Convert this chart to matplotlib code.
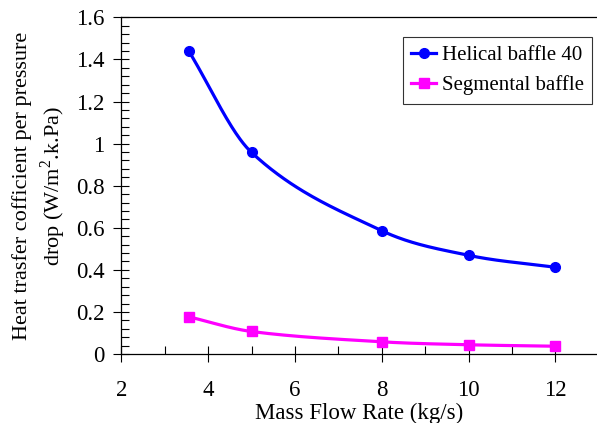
import numpy as np
import matplotlib
matplotlib.use("Agg")
import matplotlib.pyplot as plt
from matplotlib.ticker import MultipleLocator

mass_flow = [3.55, 5, 8, 10, 12]
helical = [1.441, 0.958, 0.586, 0.469, 0.412]
segmental = [0.177, 0.107, 0.058, 0.044, 0.037]
labels = ["Helical baffle 40", "Segmental baffle"]


def smooth_curve(x, y, n=60):
    """Cubic Hermite (Catmull-Rom style) smoothing through the points."""
    x = np.asarray(x, float); y = np.asarray(y, float)
    k = len(x)
    m = np.empty(k)
    m[0] = (y[1] - y[0]) / (x[1] - x[0])
    m[-1] = (y[-1] - y[-2]) / (x[-1] - x[-2])
    for i in range(1, k - 1):
        m[i] = (y[i + 1] - y[i - 1]) / (x[i + 1] - x[i - 1])
    X, Y = [], []
    for i in range(k - 1):
        h = x[i + 1] - x[i]
        t = np.linspace(0, 1, n, endpoint=(i == k - 2))
        h00 = 2 * t**3 - 3 * t**2 + 1
        h10 = t**3 - 2 * t**2 + t
        h01 = -2 * t**3 + 3 * t**2
        h11 = t**3 - t**2
        X.append(x[i] + t * h)
        Y.append(h00 * y[i] + h10 * h * m[i] + h01 * y[i + 1] + h11 * h * m[i + 1])
    return np.concatenate(X), np.concatenate(Y)


plt.rcParams["font.family"] = ["Liberation Serif", "DejaVu Serif"]
plt.rcParams["mathtext.fontset"] = "custom"
plt.rcParams["mathtext.rm"] = "Liberation Serif"

fig = plt.figure(figsize=(5.97, 4.23), dpi=100)
ax = fig.add_axes([0.2032, 0.1631, 0.7968, 0.7959])

blue = "#0000ff"
mag = "#ff00ff"

xs, ys = smooth_curve(mass_flow, helical)
ax.plot(xs, ys, color=blue, lw=2.3)
ax.plot(mass_flow, helical, "o", color=blue, ms=7)
xs, ys = smooth_curve(mass_flow, segmental)
ax.plot(xs, ys, color=mag, lw=2.3)
ax.plot(mass_flow, segmental, "s", color=mag, ms=7)

h1, = ax.plot([], [], "-o", color=blue, lw=2.3, ms=7, label=labels[0])
h2, = ax.plot([], [], "-s", color=mag, lw=2.3, ms=7, label=labels[1])

ax.set_xlim(2, 12.96)
ax.set_ylim(0, 1.6)
ax.xaxis.set_minor_locator(MultipleLocator(1))
ax.yaxis.set_minor_locator(MultipleLocator(0.04))
ax.set_yticks(np.arange(0, 1.61, 0.2))
ax.set_yticklabels(["0", "0.2", "0.4", "0.6", "0.8", "1", "1.2", "1.4", "1.6"])
ax.set_xticks([2, 4, 6, 8, 10, 12])
ax.set_xticklabels(["2", "4", "6", "8", "10", "12"])

ax.tick_params(which="major", direction="inout", length=12, width=0.8, labelsize=16.5)
ax.tick_params(axis="y", which="major", pad=6)
ax.tick_params(axis="x", which="major", pad=13)
ax.tick_params(which="minor", direction="in", length=6, width=0.8)
ax.tick_params(top=False, right=False, which="both")
ax.spines["right"].set_visible(False)
for s in ["left", "bottom", "top"]:
    ax.spines[s].set_linewidth(0.9)

ax.set_xlabel("Mass Flow Rate (kg/s)", fontsize=16.5, labelpad=1)
ax.set_ylabel("Heat trasfer cofficient per pressure\ndrop (W/m$^2$.k.Pa)", fontsize=16, labelpad=6,
              linespacing=1.3)

leg = ax.legend(handles=[h1, h2], loc="upper left", bbox_to_anchor=(403 / 597, 1 - 37 / 423),
                bbox_transform=fig.transFigure, fontsize=15, frameon=True, fancybox=False,
                handlelength=1.2, handletextpad=0.25, borderpad=0.4, labelspacing=0.5,
                borderaxespad=0)
leg.get_frame().set_edgecolor("black")
leg.get_frame().set_linewidth(0.8)

fig.savefig("out.png", dpi=100)
